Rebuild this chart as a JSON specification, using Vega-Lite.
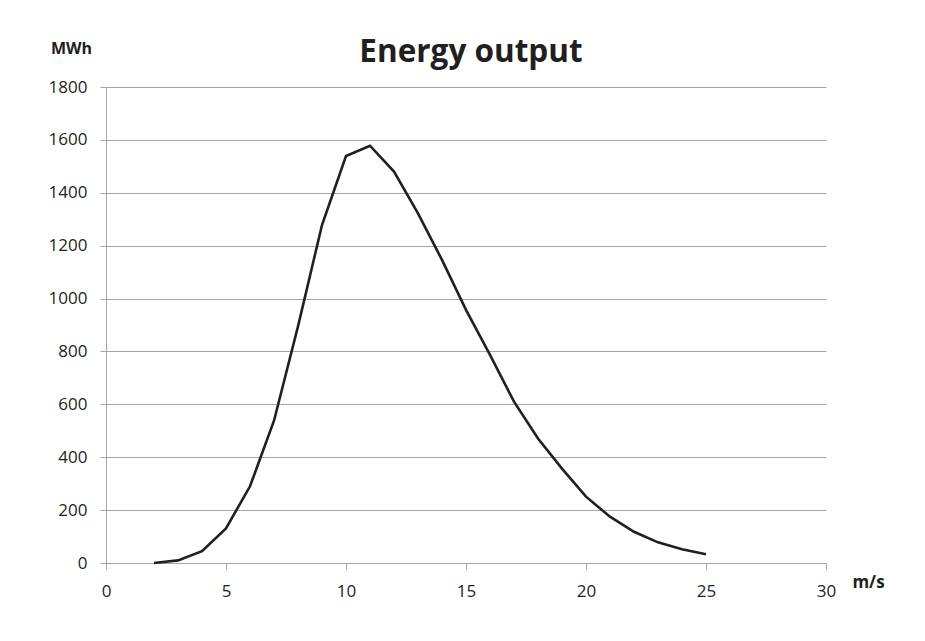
{
  "$schema": "https://vega.github.io/schema/vega-lite/v6.json",
  "autosize": {"type": "none"},
  "padding": {"left": 106, "top": 87, "right": 99, "bottom": 78},
  "width": 720,
  "height": 476,
  "background": "white",
  "title": {
    "text": "Energy output",
    "font": "Open Sans",
    "fontSize": 31.5,
    "fontWeight": "bold",
    "color": "#231f20",
    "anchor": "middle",
    "dx": 5,
    "offset": -28
  },
  "data": {
    "values": [
      {"speed": 2, "energy": 0},
      {"speed": 3, "energy": 10},
      {"speed": 4, "energy": 45},
      {"speed": 5, "energy": 131},
      {"speed": 6, "energy": 290},
      {"speed": 7, "energy": 538},
      {"speed": 8, "energy": 895},
      {"speed": 9, "energy": 1278},
      {"speed": 10, "energy": 1539},
      {"speed": 11, "energy": 1578},
      {"speed": 12, "energy": 1480},
      {"speed": 13, "energy": 1322},
      {"speed": 14, "energy": 1146},
      {"speed": 15, "energy": 957},
      {"speed": 16, "energy": 787},
      {"speed": 17, "energy": 610},
      {"speed": 18, "energy": 471},
      {"speed": 19, "energy": 357},
      {"speed": 20, "energy": 251},
      {"speed": 21, "energy": 175},
      {"speed": 22, "energy": 118},
      {"speed": 23, "energy": 78},
      {"speed": 24, "energy": 52},
      {"speed": 25, "energy": 33}
    ]
  },
  "mark": {"type": "line", "color": "#231f20", "strokeWidth": 2.6, "strokeJoin": "miter"},
  "encoding": {
    "x": {
      "field": "speed",
      "type": "quantitative",
      "scale": {"domain": [0, 30], "nice": false, "zero": false},
      "axis": {
        "title": "m/s",
        "values": [0, 5, 10, 15, 20, 25, 30],
        "format": "d",
        "labelFlush": false,
        "grid": false,
        "domainColor": "#a6a6a6",
        "tickColor": "#a6a6a6",
        "tickSize": 6,
        "labelFont": "Open Sans",
        "labelFontSize": 17,
        "labelColor": "#231f20",
        "labelPadding": 14,
        "titleFont": "Open Sans",
        "titleFontSize": 17,
        "titleFontWeight": "bold",
        "titleColor": "#231f20",
        "titleAngle": 0,
        "titleAlign": "center",
        "titleBaseline": "middle",
        "titleX": 762,
        "titleY": 19
      }
    },
    "y": {
      "field": "energy",
      "type": "quantitative",
      "scale": {"domain": [0, 1800], "nice": false},
      "axis": {
        "title": "MWh",
        "values": [0, 200, 400, 600, 800, 1000, 1200, 1400, 1600, 1800],
        "format": "d",
        "labelFlush": false,
        "grid": true,
        "gridColor": "#a6a6a6",
        "gridWidth": 1,
        "domainColor": "#a6a6a6",
        "tickColor": "#a6a6a6",
        "tickSize": 6,
        "labelFont": "Open Sans",
        "labelFontSize": 17,
        "labelColor": "#231f20",
        "labelPadding": 13,
        "titleFont": "Open Sans",
        "titleFontSize": 16,
        "titleFontWeight": "bold",
        "titleColor": "#231f20",
        "titleAngle": 0,
        "titleAlign": "center",
        "titleBaseline": "middle",
        "titleX": -35,
        "titleY": -39
      }
    }
  },
  "config": {"view": {"stroke": null}}
}
